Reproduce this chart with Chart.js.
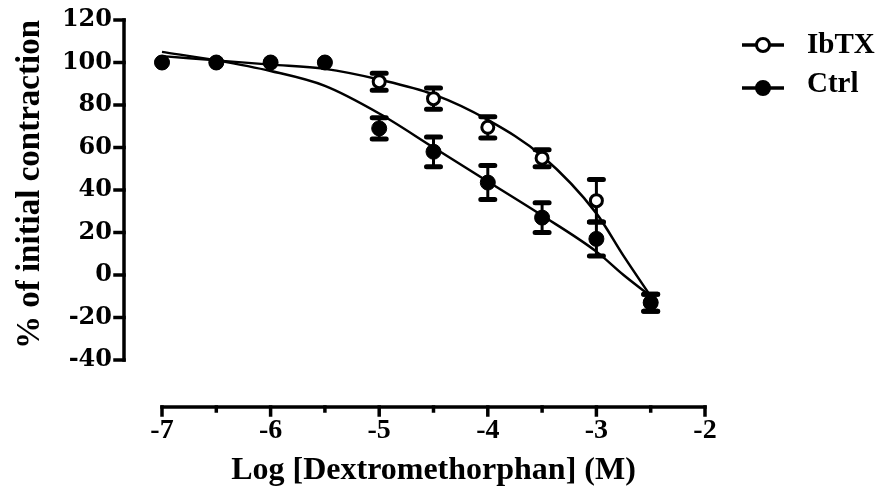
<!DOCTYPE html>
<html>
<head>
<meta charset="utf-8">
<script src="https://cdn.jsdelivr.net/npm/chart.js@4.4.1/dist/chart.umd.min.js"></script>
<style>
  html, body { margin: 0; padding: 0; background: #fff; }
  #wrap { width: 881px; height: 490px; }
</style>
</head>
<body>
<div id="wrap"><canvas id="chart"></canvas></div>
<script>
// Data
const doses = [-7, -6.5, -6, -5.5, -5, -4.5, -4, -3.5, -3, -2.5];
const ibtxMean = [100, 100, 100, 100, 91, 83, 69.5, 55, 35, -13];
const ibtxSem = [0, 0, 0, 0, 4, 5, 5, 4, 10, 4];
const ctrlMean = [100, 100, 100, 100, 69, 58, 43.5, 27, 17, -13];
const ctrlSem = [0, 0, 0, 0, 5, 7, 8, 7, 8, 4];

// Fitted curves
const fitDoses = [-7, -6.5, -6, -5.5, -5, -4.5, -4, -3.5, -3, -2.75, -2.5];
const ibtxFit = [103, 101, 99, 97, 92, 85, 73, 56, 29, 9, -10];
const ctrlFit = [105, 101, 96, 89, 76, 60, 44, 28, 11, 0, -10];

const xTicks = [-7, -6.5, -6, -5.5, -5, -4.5, -4, -3.5, -3, -2.5, -2];
const yTicks = [-40, -20, 0, 20, 40, 60, 80, 100, 120];

const SERIF = "'Liberation Serif', 'Times New Roman', serif";
const WIDE = "'DejaVu Serif', serif";

function pts(xs, ys) {
  return xs.map((x, i) => ({ x: x, y: ys[i] }));
}

// Prism-style offset axes
const axesPlugin = {
  id: 'axes',
  afterDraw(chart) {
    const ctx = chart.ctx;
    const xs = chart.scales.x, ys = chart.scales.y;
    const area = chart.chartArea;
    const ax = area.left - 38;
    const ay = area.bottom + 47;
    ctx.save();
    ctx.strokeStyle = '#000';
    ctx.lineWidth = 3.5;
    ctx.lineCap = 'square';
    // y axis
    ctx.beginPath();
    ctx.moveTo(ax, ys.getPixelForValue(120));
    ctx.lineTo(ax, ys.getPixelForValue(-40));
    ctx.stroke();
    yTicks.forEach(v => {
      const py = ys.getPixelForValue(v);
      ctx.beginPath();
      ctx.moveTo(ax, py);
      ctx.lineTo(ax - 9, py);
      ctx.stroke();
    });
    // x axis
    ctx.beginPath();
    ctx.moveTo(xs.getPixelForValue(-7), ay);
    ctx.lineTo(xs.getPixelForValue(-2), ay);
    ctx.stroke();
    xTicks.forEach(v => {
      const px = xs.getPixelForValue(v);
      const len = Number.isInteger(v) ? 8 : 4;
      ctx.beginPath();
      ctx.moveTo(px, ay);
      ctx.lineTo(px, ay + len);
      ctx.stroke();
    });
    ctx.restore();
  }
};

// Error bars (SEM), drawn under the markers
const errorBars = {
  id: 'errorBars',
  beforeDatasetsDraw(chart) {
    const ctx = chart.ctx;
    const xs = chart.scales.x, ys = chart.scales.y;
    ctx.save();
    ctx.strokeStyle = '#000';
    chart.data.datasets.forEach(ds => {
      if (!ds.sem) return;
      ds.data.forEach((p, i) => {
        const e = ds.sem[i];
        if (!e) return;
        const px = xs.getPixelForValue(p.x);
        const top = ys.getPixelForValue(p.y + e);
        const bot = ys.getPixelForValue(p.y - e);
        ctx.lineWidth = 3;
        ctx.lineCap = 'butt';
        ctx.beginPath();
        ctx.moveTo(px, top);
        ctx.lineTo(px, bot);
        ctx.stroke();
        ctx.lineWidth = 5;
        ctx.lineCap = 'round';
        ctx.beginPath();
        ctx.moveTo(px - 7, top);
        ctx.lineTo(px + 7, top);
        ctx.moveTo(px - 7, bot);
        ctx.lineTo(px + 7, bot);
        ctx.stroke();
      });
    });
    ctx.restore();
  }
};

// Legend: line with marker, bold label
const legendPlugin = {
  id: 'customLegend',
  afterDraw(chart) {
    const ctx = chart.ctx;
    const items = [
      { label: 'IbTX', fill: '#fff', y: 45, base: 53 },
      { label: 'Ctrl', fill: '#000', y: 88, base: 92 }
    ];
    ctx.save();
    items.forEach(it => {
      ctx.strokeStyle = '#000';
      ctx.lineWidth = 3.5;
      ctx.beginPath();
      ctx.moveTo(742, it.y);
      ctx.lineTo(784, it.y);
      ctx.stroke();
      ctx.lineWidth = 3;
      ctx.beginPath();
      ctx.arc(763, it.y, 6.5, 0, Math.PI * 2);
      ctx.fillStyle = it.fill;
      ctx.fill();
      ctx.stroke();
      ctx.fillStyle = '#000';
      ctx.font = 'bold 29px ' + SERIF;
      ctx.textBaseline = 'alphabetic';
      ctx.fillText(it.label, 807, it.base);
    });
    ctx.restore();
  }
};

new Chart(document.getElementById('chart'), {
  type: 'line',
  data: {
    datasets: [
      {
        label: 'Ctrl',
        data: pts(doses, ctrlMean),
        sem: ctrlSem,
        showLine: false,
        pointRadius: 7.5,
        pointBackgroundColor: '#000',
        pointBorderColor: '#000',
        pointBorderWidth: 1,
        clip: false,
        order: 0
      },
      {
        label: 'IbTX',
        data: pts(doses, ibtxMean),
        sem: ibtxSem,
        showLine: false,
        pointRadius: 6,
        pointBackgroundColor: '#fff',
        pointBorderColor: '#000',
        pointBorderWidth: 3,
        clip: false,
        order: 1
      },
      {
        label: 'IbTX fit',
        data: pts(fitDoses, ibtxFit),
        borderColor: '#000',
        borderWidth: 2.5,
        pointRadius: 0,
        cubicInterpolationMode: 'monotone',
        clip: false,
        order: 2
      },
      {
        label: 'Ctrl fit',
        data: pts(fitDoses, ctrlFit),
        borderColor: '#000',
        borderWidth: 2.5,
        pointRadius: 0,
        cubicInterpolationMode: 'monotone',
        clip: false,
        order: 3
      }
    ]
  },
  options: {
    responsive: true,
    maintainAspectRatio: false,
    animation: false,
    layout: { padding: { left: 0, right: 176, top: 20, bottom: 0 } },
    plugins: {
      legend: { display: false },
      tooltip: { enabled: false }
    },
    scales: {
      x: {
        type: 'linear',
        min: -7,
        max: -2,
        afterBuildTicks: s => { s.ticks = xTicks.map(v => ({ value: v })); },
        afterFit: s => {
          s.height = 130;
          s.paddingLeft = 15;
          s.paddingRight = 15;
        },
        grid: { display: false, drawTicks: false },
        border: { display: false },
        ticks: {
          padding: 54,
          color: '#000',
          font: { family: SERIF, size: 28, weight: 'bold' },
          callback: v => Number.isInteger(v) ? String(v) : ''
        },
        title: {
          display: true,
          text: 'Log [Dextromethorphan] (M)',
          color: '#000',
          font: { family: SERIF, size: 32, weight: 'bold' },
          padding: { top: 0, bottom: 0 }
        }
      },
      y: {
        min: -40,
        max: 120,
        afterBuildTicks: s => { s.ticks = yTicks.map(v => ({ value: v })); },
        afterFit: s => {
          s.width = 162;
          s.paddingTop = 12;
          s.paddingBottom = 12;
        },
        grid: { display: false, drawTicks: false },
        border: { display: false },
        ticks: {
          padding: 50,
          color: '#000',
          font: { family: WIDE, size: 24, weight: 'bold' }
        },
        title: {
          display: true,
          text: '% of initial contraction',
          align: 'end',
          color: '#000',
          font: { family: SERIF, size: 33, weight: 'bold' },
          padding: { top: 11, bottom: 0 }
        }
      }
    }
  },
  plugins: [axesPlugin, errorBars, legendPlugin]
});
</script>
</body>
</html>
